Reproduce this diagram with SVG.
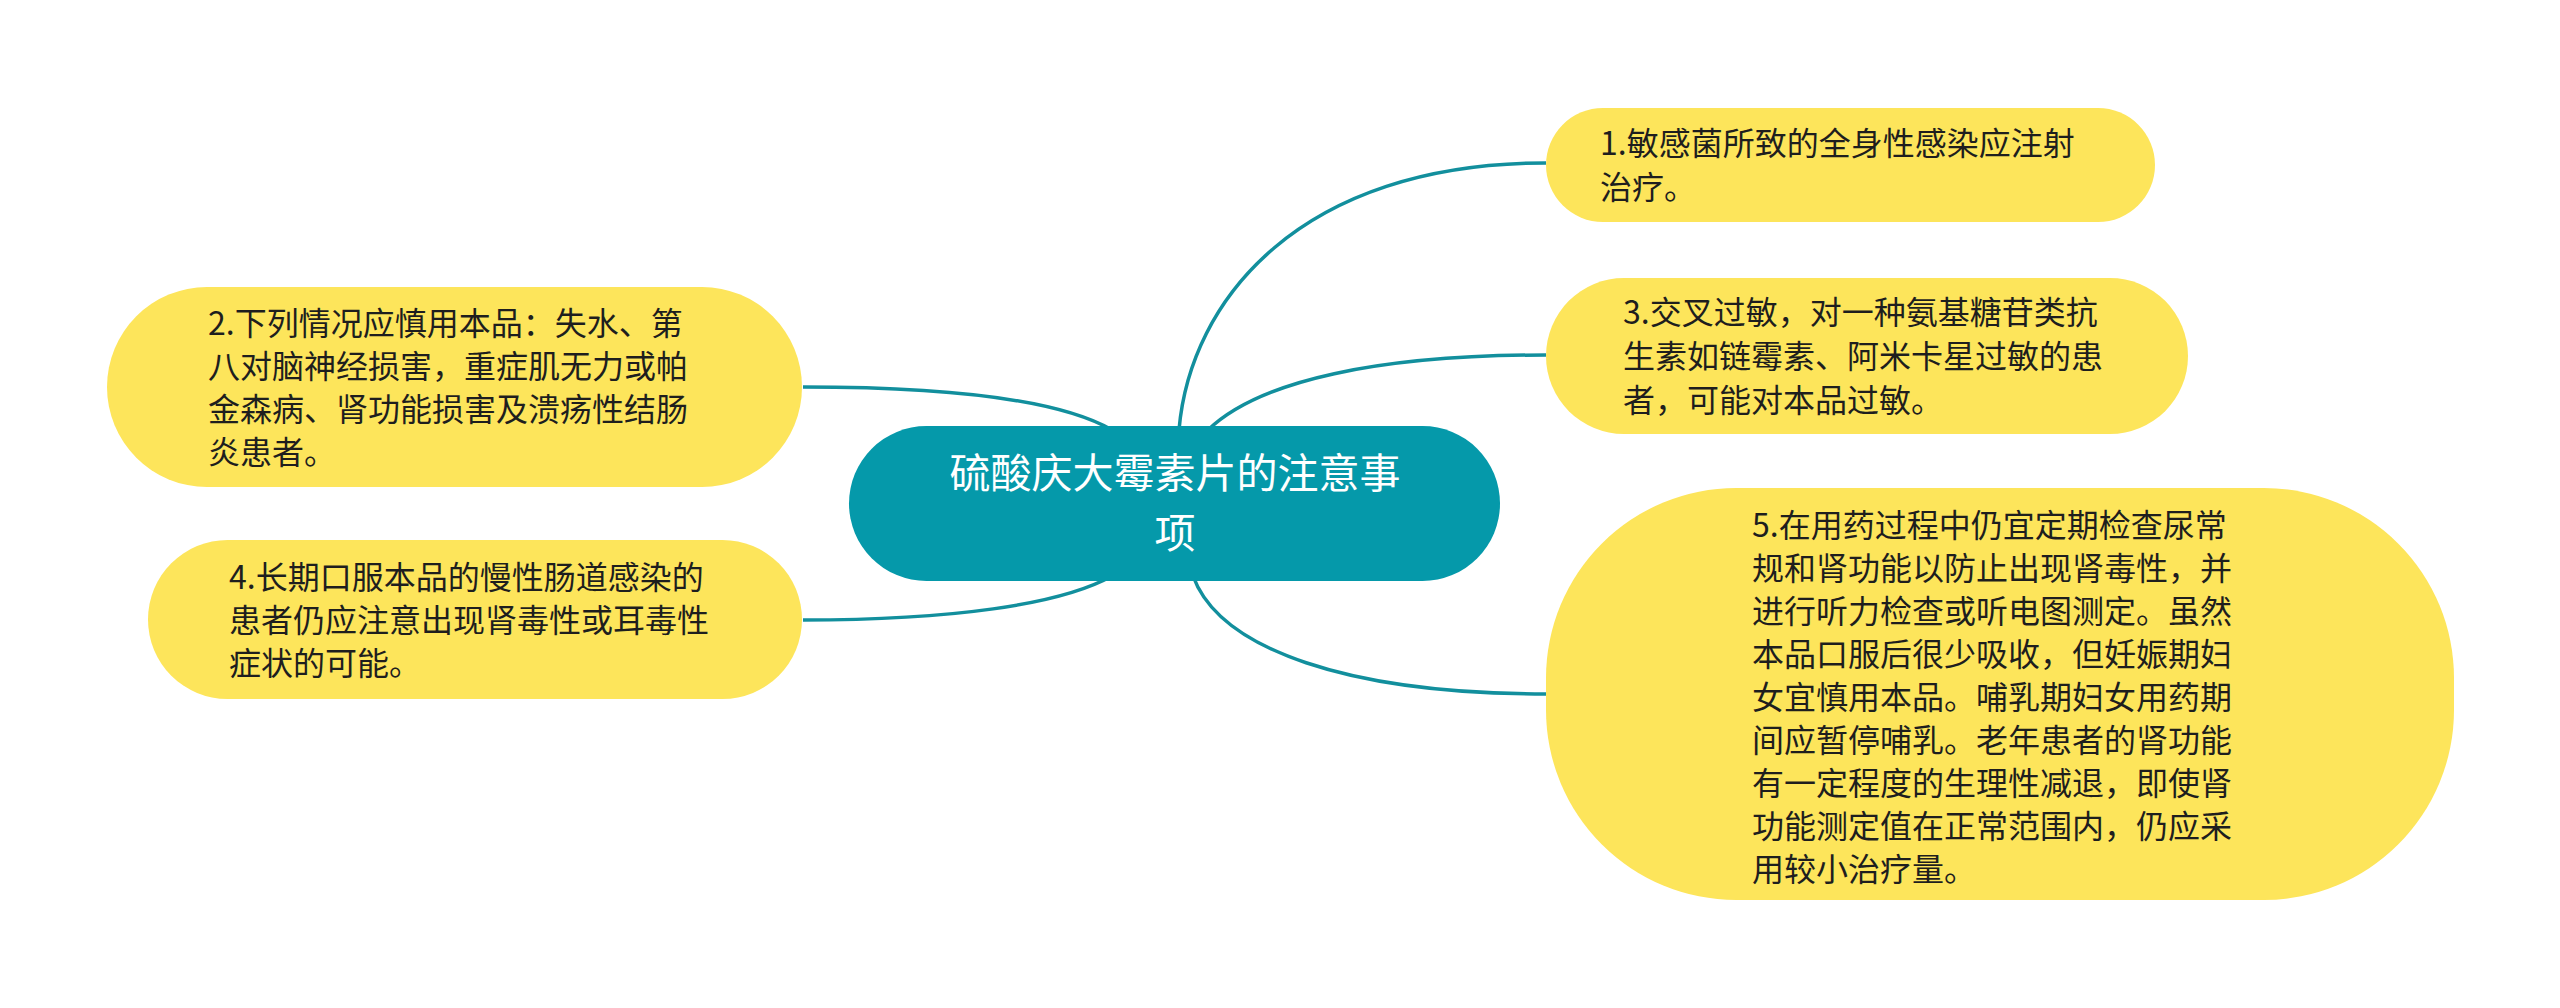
<svg xmlns="http://www.w3.org/2000/svg" width="2560" height="1008" viewBox="0 0 2560 1008">
<style>
.leaf{fill:#FDE55B;}
.leaf-t{font-family:"Noto Sans CJK SC","Noto Sans",sans-serif;font-size:32px;fill:#1e1e1e;}
.root{fill:#0599AA;}
.root-t{font-family:"Noto Sans CJK SC","Noto Sans",sans-serif;font-size:41px;fill:#ffffff;text-anchor:middle;}
.conn{fill:none;stroke:#128F9D;stroke-width:3.5;}
</style>
<rect width="2560" height="1008" fill="#ffffff"/>
<g id="connectors">
<path class="conn" d="M1179 430 C1190 300 1300 163 1546 163"/>
<path class="conn" d="M1208 430 C1260 380 1380 355 1546 355"/>
<path class="conn" d="M1193 576 C1220 650 1350 694 1546 694"/>
<path class="conn" d="M803 387 C950 387 1060 400 1112 430"/>
<path class="conn" d="M803 620 C950 620 1060 605 1112 576"/>
</g>
<g id="root">
<rect class="root" x="849" y="426" width="651" height="155" rx="77.5"/>
<text class="root-t"><tspan x="1175" y="488">硫酸庆大霉素片的注意事</tspan><tspan x="1175" y="548">项</tspan></text>
</g>
<g id="node1">
<rect class="leaf" x="1546" y="108" width="609" height="114" rx="57"/>
<text class="leaf-t"><tspan x="1600" y="155">1.敏感菌所致的全身性感染应注射</tspan><tspan x="1600" y="199">治疗。</tspan></text>
</g>
<g id="node3">
<rect class="leaf" x="1546" y="278" width="642" height="156" rx="78"/>
<text class="leaf-t"><tspan x="1623" y="324">3.交叉过敏，对一种氨基糖苷类抗</tspan><tspan x="1623" y="368">生素如链霉素、阿米卡星过敏的患</tspan><tspan x="1623" y="412">者，可能对本品过敏。</tspan></text>
</g>
<g id="node5">
<rect class="leaf" x="1546" y="488" width="908" height="412" rx="190"/>
<text class="leaf-t"><tspan x="1752" y="537">5.在用药过程中仍宜定期检查尿常</tspan><tspan x="1752" y="580">规和肾功能以防止出现肾毒性，并</tspan><tspan x="1752" y="623">进行听力检查或听电图测定。虽然</tspan><tspan x="1752" y="666">本品口服后很少吸收，但妊娠期妇</tspan><tspan x="1752" y="709">女宜慎用本品。哺乳期妇女用药期</tspan><tspan x="1752" y="752">间应暂停哺乳。老年患者的肾功能</tspan><tspan x="1752" y="795">有一定程度的生理性减退，即使肾</tspan><tspan x="1752" y="838">功能测定值在正常范围内，仍应采</tspan><tspan x="1752" y="881">用较小治疗量。</tspan></text>
</g>
<g id="node2">
<rect class="leaf" x="107" y="287" width="695" height="200" rx="100"/>
<text class="leaf-t"><tspan x="208" y="335">2.下列情况应慎用本品：失水、第</tspan><tspan x="208" y="378">八对脑神经损害，重症肌无力或帕</tspan><tspan x="208" y="421">金森病、肾功能损害及溃疡性结肠</tspan><tspan x="208" y="464">炎患者。</tspan></text>
</g>
<g id="node4">
<rect class="leaf" x="148" y="540" width="654" height="159" rx="79.5"/>
<text class="leaf-t"><tspan x="229" y="589">4.长期口服本品的慢性肠道感染的</tspan><tspan x="229" y="632">患者仍应注意出现肾毒性或耳毒性</tspan><tspan x="229" y="675">症状的可能。</tspan></text>
</g>
</svg>
